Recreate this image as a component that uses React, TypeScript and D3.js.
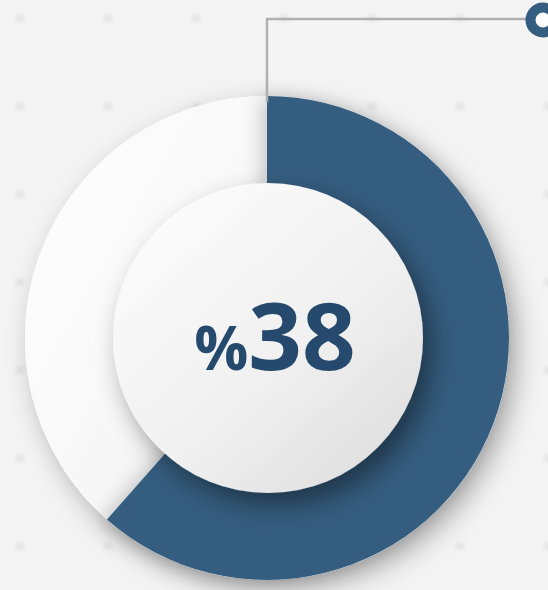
import React from "react";
import * as d3 from "d3";

const segmentLabels = ["filled", "rest"];
const segmentValues = [61.5, 38.5];
const centerPrefix = "%";
const centerValue = "38";
const dotCols = [0, 1, 2, 3, 4, 5, 6];
const dotRows = [0, 1, 2, 3, 4, 5, 6];

const W = 548;
const H = 590;
const cx = 267;
const cy = 338;
const R = 242;
const rInner = 155;
const BLUE = "#345d7f";
const TEXT = "#264a6e";

export default function App() {
  const data = segmentLabels.map((l, i) => ({ label: l, value: segmentValues[i] }));
  const pie = d3.pie<any>().sort(null).value((d) => d.value).startAngle(0).endAngle(2 * Math.PI);
  const arcs = pie(data);
  const arc = d3.arc<any>().innerRadius(0).outerRadius(R);
  const dotX = d3.scaleLinear().domain([0, 1]).range([20, 108]);
  const dotY = d3.scaleLinear().domain([0, 1]).range([18, 106]);

  return (
    <svg width={W} height={H} style={{ position: "absolute", left: 0, top: 0 }}>
      <defs>
        <filter id="blurDot" x="-50%" y="-50%" width="200%" height="200%">
          <feGaussianBlur stdDeviation="2.5" />
        </filter>
        <filter id="ringShadow" x="-20%" y="-20%" width="140%" height="140%">
          <feDropShadow dx="8" dy="10" stdDeviation="14" floodColor="#000" floodOpacity="0.3" />
        </filter>
        <filter id="innerShadow" x="-30%" y="-30%" width="160%" height="160%">
          <feDropShadow dx="9" dy="12" stdDeviation="13" floodColor="#000" floodOpacity="0.42" />
        </filter>
        <filter id="segShadow" x="-30%" y="-30%" width="160%" height="160%">
          <feDropShadow dx="-5" dy="2" stdDeviation="9" floodColor="#000" floodOpacity="0.2" />
        </filter>
        <linearGradient id="whiteRing" x1="0" y1="0" x2="1" y2="1">
          <stop offset="0" stopColor="#ffffff" />
          <stop offset="0.6" stopColor="#f7f7f7" />
          <stop offset="1" stopColor="#e4e4e4" />
        </linearGradient>
        <linearGradient id="innerGrad" x1="0.15" y1="0.1" x2="0.9" y2="0.95">
          <stop offset="0" stopColor="#fbfbfb" />
          <stop offset="0.55" stopColor="#f0f0f0" />
          <stop offset="1" stopColor="#dedede" />
        </linearGradient>
      </defs>
      <rect x={0} y={0} width={W} height={H} fill="#f4f4f4" />
      <g filter="url(#blurDot)" opacity={0.7}>
        {dotRows.map((r) =>
          dotCols.map((c) => (
            <circle key={`${r}-${c}`} cx={dotX(c)} cy={dotY(r)} r={3.5} fill="#d2d2d2" />
          ))
        )}
      </g>
      <g transform={`translate(${cx},${cy})`}>
        <circle r={R} fill="#fff" filter="url(#ringShadow)" />
        <path d={arc(arcs[1]) || ""} fill="url(#whiteRing)" />
        <path d={arc(arcs[0]) || ""} fill={BLUE} filter="url(#segShadow)" />
      </g>
      <path
        d={`M${cx},${cy - R + 6}V19H528`}
        fill="none"
        stroke="#b0b0b0"
        strokeWidth={2.5}
      />
      <circle cx={543} cy={20} r={12.5} fill="#fff" stroke={BLUE} strokeWidth={10} />
      <circle cx={cx + 1} cy={cy} r={rInner} fill="url(#innerGrad)" filter="url(#innerShadow)" />
      <text
        x={cx + 8}
        y={cy + 32}
        textAnchor="middle"
        fill={TEXT}
        fontFamily="'Open Sans', sans-serif"
        fontWeight="bold"
      >
        <tspan fontSize={60}>{centerPrefix}</tspan>
        <tspan fontSize={94}>{centerValue}</tspan>
      </text>
    </svg>
  );
}
